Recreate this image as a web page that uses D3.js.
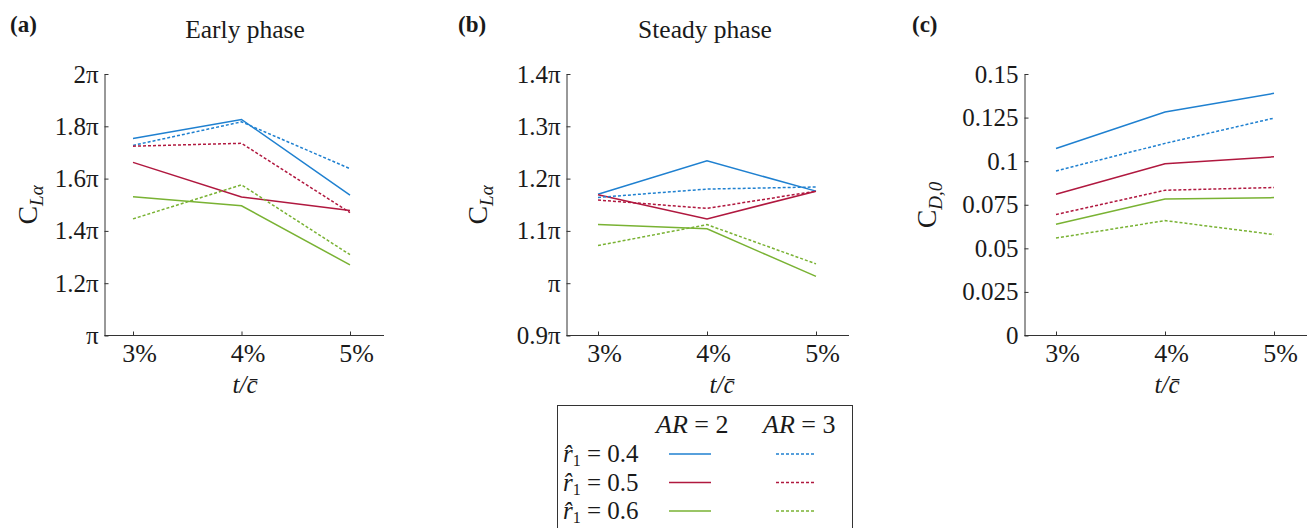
<!DOCTYPE html>
<meta charset="utf-8">
<script src="https://d3js.org/d3.v7.min.js"></script>
<style>
body { margin: 0; background: #fff; }
text { font-family: "Liberation Serif", serif; fill: #1a1a1a; }
.axis path, .axis line { stroke: #333; stroke-width: 1; fill: none; }
</style>
<body>
<script>

// thickness ratio t/c (%)
var thickness = [3, 4, 5];
var xTickLabels = ["3%", "4%", "5%"];

// rows: r1 = 0.4, 0.5, 0.6
// (a) early phase, C_La in units of pi
var earlyAR2 = [[1.753, 1.826, 1.537], [1.662, 1.530, 1.478], [1.531, 1.496, 1.270]];
var earlyAR3 = [[1.727, 1.817, 1.638], [1.724, 1.735, 1.470], [1.446, 1.576, 1.309]];
// (b) steady phase, C_La in units of pi
var steadyAR2 = [[1.170, 1.234, 1.176], [1.169, 1.123, 1.176], [1.112, 1.104, 1.013]];
var steadyAR3 = [[1.164, 1.180, 1.184], [1.159, 1.143, 1.176], [1.072, 1.112, 1.037]];
// (c) C_D,0
var dragAR2 = [[0.1073, 0.1282, 0.1389], [0.0810, 0.0985, 0.1025], [0.0638, 0.0783, 0.0791]];
var dragAR3 = [[0.0944, 0.1102, 0.1247], [0.0694, 0.0833, 0.0849], [0.0559, 0.0659, 0.0579]];

var earlyTicks = [1, 1.2, 1.4, 1.6, 1.8, 2];
var earlyTickLabels = ["π", "1.2π", "1.4π", "1.6π", "1.8π", "2π"];
var steadyTicks = [0.9, 1, 1.1, 1.2, 1.3, 1.4];
var steadyTickLabels = ["0.9π", "π", "1.1π", "1.2π", "1.3π", "1.4π"];
var dragTicks = [0, 0.025, 0.05, 0.075, 0.1, 0.125, 0.15];
var dragTickLabels = ["0", "0.025", "0.05", "0.075", "0.1", "0.125", "0.15"];

var radiusLabels = ["0.4", "0.5", "0.6"];
var colors = ["#1f80d0", "#b0183f", "#79b233"];
var dash = "3,2";

var svg = d3.select("body").append("svg")
    .attr("width", 1310)
    .attr("height", 528);

var panels = [
  { tag: "(a)", tagX: 10, title: "Early phase", titleX: 245, axisX: 104.5, right: 384, x0: 133, x1: 350,
    domain: [1, 2], ticks: earlyTicks, tickLabels: earlyTickLabels, s2: earlyAR2, s3: earlyAR3,
    ylabX: 37, ylab: "C", ysub: "Lα", xlabX: 245 },
  { tag: "(b)", tagX: 458, title: "Steady phase", titleX: 705, axisX: 566.5, right: 849, x0: 598, x1: 816,
    domain: [0.9, 1.4], ticks: steadyTicks, tickLabels: steadyTickLabels, s2: steadyAR2, s3: steadyAR3,
    ylabX: 487, ylab: "C", ysub: "Lα", xlabX: 722 },
  { tag: "(c)", tagX: 912, title: null, axisX: 1024.5, right: 1307, x0: 1056, x1: 1274,
    domain: [0, 0.15], ticks: dragTicks, tickLabels: dragTickLabels, s2: dragAR2, s3: dragAR3,
    ylabX: 936, ylab: "C", ysub: "D,0", xlabX: 1167 }
];

var plotTop = 74, plotBottom = 335.5;

panels.forEach(function(p) {
  var g = svg.append("g");

  var x = d3.scaleLinear().domain([3, 5]).range([p.x0, p.x1]);
  var y = d3.scaleLinear().domain(p.domain).range([plotBottom, plotTop]);

  g.append("text")
      .attr("x", p.tagX).attr("y", 32)
      .style("font-weight", "bold").style("font-size", "23px")
      .text(p.tag);

  if (p.title) {
    g.append("text")
        .attr("x", p.titleX).attr("y", 38)
        .attr("text-anchor", "middle")
        .style("font-size", "25.5px")
        .text(p.title);
  }

  // y axis, ticks inward
  var yAxis = g.append("g")
      .attr("class", "axis")
      .attr("transform", "translate(" + p.axisX + ",0)")
      .call(d3.axisLeft(y).tickValues(p.ticks).tickSize(-4).tickSizeOuter(0)
        .tickFormat(function(d, i) { return p.tickLabels[i]; }));
  yAxis.selectAll("text").attr("x", -6).style("font-size", "25px")
      .style("font-family", "'Liberation Serif', serif").attr("fill", "#1a1a1a");

  // x axis
  var xAxis = g.append("g")
      .attr("class", "axis")
      .attr("transform", "translate(0," + plotBottom + ")")
      .call(d3.axisBottom(x).tickValues(thickness).tickSize(-4).tickSizeOuter(0)
        .tickFormat(function(d, i) { return xTickLabels[i]; }));
  xAxis.select(".domain").remove();
  xAxis.append("line")
      .attr("x1", p.axisX).attr("x2", p.right)
      .attr("y1", 0).attr("y2", 0);
  xAxis.selectAll("text").attr("y", 8).attr("dx", 6).style("font-size", "26px")
      .style("font-family", "'Liberation Serif', serif").attr("fill", "#1a1a1a");

  // y label
  var yl = g.append("text")
      .attr("transform", "translate(" + p.ylabX + "," + 205 + ") rotate(-90)")
      .attr("text-anchor", "middle")
      .style("font-size", "28px");
  yl.append("tspan").text(p.ylab);
  yl.append("tspan").attr("dy", 6).style("font-size", "19px").style("font-style", "italic").text(p.ysub);

  // x label
  g.append("text")
      .attr("x", p.xlabX).attr("y", 393)
      .attr("text-anchor", "middle")
      .style("font-size", "25px").style("font-style", "italic")
      .text("t/c\u0304");

  var line = d3.line()
      .x(function(d, i) { return x(thickness[i]); })
      .y(function(d) { return y(d); });

  p.s2.forEach(function(vals, k) {
    g.append("path").datum(vals)
        .attr("d", line).attr("fill", "none")
        .attr("stroke", colors[k]).attr("stroke-width", 1.5);
  });
  p.s3.forEach(function(vals, k) {
    g.append("path").datum(vals)
        .attr("d", line).attr("fill", "none")
        .attr("stroke", colors[k]).attr("stroke-width", 1.5)
        .attr("stroke-dasharray", dash);
  });
});

// legend
var leg = svg.append("g");
leg.append("rect")
    .attr("x", 557.5).attr("y", 405.5)
    .attr("width", 295).attr("height", 140)
    .attr("fill", "#fff").attr("stroke", "#333").attr("stroke-width", 1);

[["AR", " = 2", 656], ["AR", " = 3", 763]].forEach(function(h) {
  var t = leg.append("text").attr("x", h[2]).attr("y", 433).style("font-size", "26px");
  t.append("tspan").style("font-style", "italic").text(h[0]);
  t.append("tspan").text(h[1]);
});

radiusLabels.forEach(function(r, k) {
  var yRow = 462 + k * 28.5;
  var t = leg.append("text").attr("x", 563).attr("y", yRow).style("font-size", "25px");
  t.append("tspan").style("font-style", "italic").text("r\u0302");
  t.append("tspan").attr("dy", 4).style("font-size", "16px").text("1");
  t.append("tspan").attr("dy", -4).text(" = " + r);

  leg.append("line")
      .attr("x1", 669).attr("x2", 711)
      .attr("y1", yRow - 8).attr("y2", yRow - 8)
      .attr("stroke", colors[k]).attr("stroke-width", 1.5);
  leg.append("line")
      .attr("x1", 776).attr("x2", 816)
      .attr("y1", yRow - 8).attr("y2", yRow - 8)
      .attr("stroke", colors[k]).attr("stroke-width", 1.5)
      .attr("stroke-dasharray", dash);
});

</script>
</body>
</html>
